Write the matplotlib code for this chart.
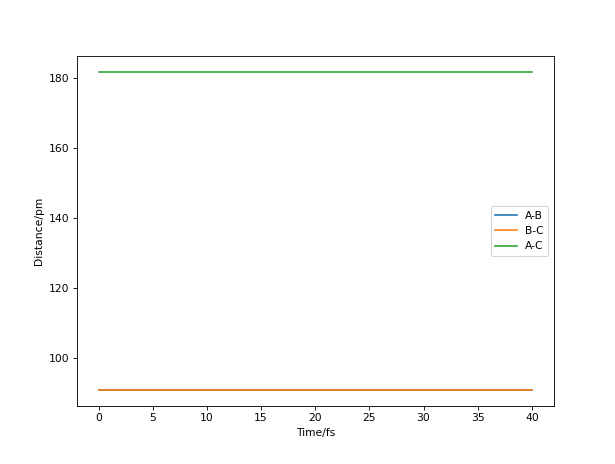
import numpy as np
import matplotlib
matplotlib.use("Agg")
import matplotlib.pyplot as plt

# Distances between atoms over the trajectory (they stay constant)
time_fs = [0, 5, 10, 15, 20, 25, 30, 35, 40]
dist_ab = [90.75, 90.75, 90.75, 90.75, 90.75, 90.75, 90.75, 90.75, 90.75]
dist_bc = [90.75, 90.75, 90.75, 90.75, 90.75, 90.75, 90.75, 90.75, 90.75]
dist_ac = [181.6, 181.6, 181.6, 181.6, 181.6, 181.6, 181.6, 181.6, 181.6]

fig = plt.figure(figsize=(615 / 77, 464 / 77), dpi=77)
ax = fig.add_subplot(111)
fig.subplots_adjust(left=0.125, right=0.9, top=0.879, bottom=0.125)

ax.plot(time_fs, dist_ab, label="A-B")
ax.plot(time_fs, dist_bc, label="B-C")
ax.plot(time_fs, dist_ac, label="A-C")
ax.set_xlabel("Time/fs")
ax.set_ylabel("Distance/pm")
ax.legend(loc="center right")

fig.savefig("out.png", dpi=77)
